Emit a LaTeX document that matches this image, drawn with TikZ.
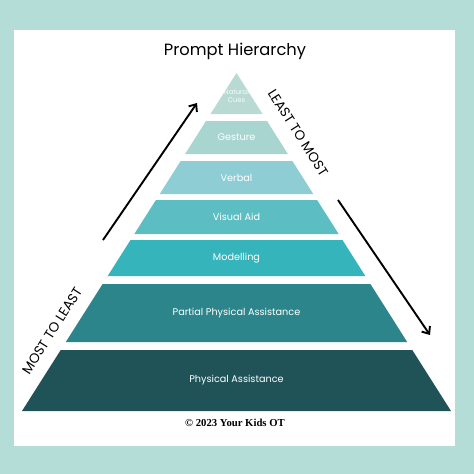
\documentclass[tikz,border=0pt]{standalone}
\usepackage{fontspec}
\usepackage{tikz}
\usetikzlibrary{arrows.meta,positioning,calc}
\usepackage{xcolor}
\newfontfamily\geofont{Poppins}
\newfontfamily\stampfont{Liberation Serif}
\definecolor{pgframe}{HTML}{B3DDD6}
\definecolor{pgnatural}{HTML}{B8DAD3}
\definecolor{pggesture}{HTML}{A8D5CF}
\definecolor{pgverbal}{HTML}{8ECDD4}
\definecolor{pgvisual}{HTML}{5CBEC3}
\definecolor{pgmodel}{HTML}{35B5BB}
\definecolor{pgpartial}{HTML}{2B858A}
\definecolor{pgphysical}{HTML}{1F5358}

% one band of the pyramid: top y, bottom y, colour, name, text
\newcommand{\tier}[5]{%
  \pgfmathsetmacro{\wtop}{0.6346*(#1-73)}
  \pgfmathsetmacro{\wbot}{0.6346*(#2-73)}
  \fill[#3] (236.5-\wtop,#1) -- (236.5+\wtop,#1) -- (236.5+\wbot,#2) -- (236.5-\wbot,#2) -- cycle;
  \node[tierlabel] (#4) at (236.5,{(#1+#2)/2}) {#5};
}

\begin{document}
\begin{tikzpicture}[
  x=1pt, y=-1pt,
  tierlabel/.style={
    text=white, align=center, inner sep=1pt,
    font=\geofont\fontsize{9.7}{11}\selectfont
  },
  sidelabel/.style={
    text=black, inner sep=0pt,
    font=\geofont\fontsize{13.5}{15}\selectfont
  },
  arr/.style={-{Straight Barb[length=6pt,width=10pt]}, line width=1.9pt, color=black},
]
  \useasboundingbox (0,0) rectangle (474,474);

  % Frame
  \fill[pgframe] (0,0) rectangle (474,474);
  \fill[white] (14,30) rectangle (455,446);

  % Title
  \node[font=\geofont\fontsize{16.3}{19}\selectfont] (title) at (235,51) {Prompt Hierarchy};

  % Pyramid, top to bottom
  \fill[pgnatural] (236.5,73) -- (262.5,114) -- (210.5,114) -- cycle;
  \node[tierlabel, font=\geofont\fontsize{6.8}{8}\selectfont, text=white!90!pgnatural] (natural) at (236.5,96) {Natural\\Cues};
  \tier{121}{154}{pggesture}{gesture}{Gesture}
  \tier{161}{194}{pgverbal}{verbal}{Verbal}
  \tier{200}{234}{pgvisual}{visual}{Visual Aid}
  \tier{240}{276}{pgmodel}{model}{Modelling}
  \tier{284}{342}{pgpartial}{partial}{Partial Physical Assistance}
  \tier{350}{411}{pgphysical}{physical}{Physical Assistance}

  % Side labels
  \node[sidelabel, rotate=-57.6] (leastmost) at (298,133) {LEAST TO MOST};
  \node[sidelabel, rotate=57.6] (mostleast) at (52,331) {MOST TO LEAST};

  % Arrows
  \coordinate (upfrom) at (103,240);
  \coordinate (upto) at (197,103);
  \coordinate (downfrom) at (338,200);
  \coordinate (downto) at (430,335);
  \draw[arr] (upfrom) -- (upto);
  \draw[arr] (downfrom) -- (downto);

  % Footer
  \node[font=\stampfont\bfseries\fontsize{10.7}{12}\selectfont] (stamp) at (235,423) {\textcopyright{} 2023 Your Kids OT};
\end{tikzpicture}
\end{document}
